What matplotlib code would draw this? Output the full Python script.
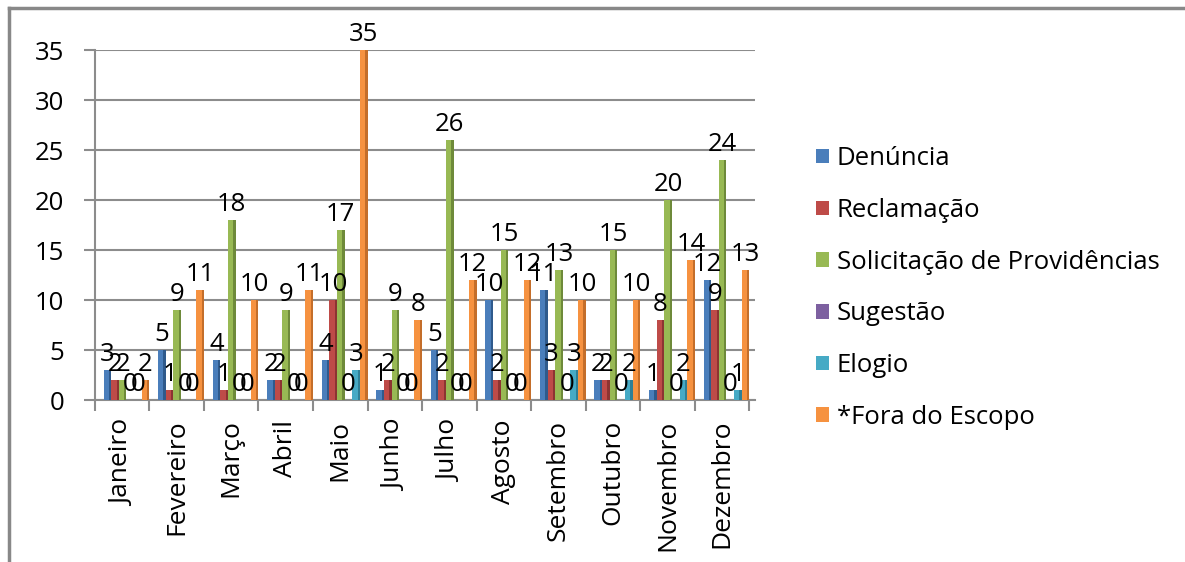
import matplotlib.pyplot as plt
import numpy as np

plt.rcParams['font.family'] = ['Open Sans', 'DejaVu Sans']

# dados
meses = ['Janeiro', 'Fevereiro', 'Março', 'Abril', 'Maio', 'Junho',
         'Julho', 'Agosto', 'Setembro', 'Outubro', 'Novembro', 'Dezembro']
series = ['Denúncia', 'Reclamação', 'Solicitação de Providências',
          'Sugestão', 'Elogio', '*Fora do Escopo']
denuncia = [3, 5, 4, 2, 4, 1, 5, 10, 11, 2, 1, 12]
reclamacao = [2, 1, 1, 2, 10, 2, 2, 2, 3, 2, 8, 9]
solicitacao = [2, 9, 18, 9, 17, 9, 26, 15, 13, 15, 20, 24]
sugestao = [0, 0, 0, 0, 0, 0, 0, 0, 0, 0, 0, 0]
elogio = [0, 0, 0, 0, 3, 0, 0, 0, 3, 2, 2, 1]
fora_escopo = [2, 11, 10, 11, 35, 8, 12, 12, 10, 10, 14, 13]
valores = [denuncia, reclamacao, solicitacao, sugestao, elogio, fora_escopo]

cores = ['#4A7EBB', '#BE4B48', '#98B954', '#7D60A0', '#46AAC5', '#F69240']
cores_lado = ['#2F5A8C', '#8C3432', '#6E8A3A', '#5A4477', '#2F7F96', '#C46E2A']

fs = 18.5

fig = plt.figure('Manifestacoes', figsize=(11.85, 5.62), dpi=100)
ax = fig.add_axes([0.080, 0.288, 0.557, 0.623])

# moldura externa (linha de cima e esquerda)
fig.add_artist(plt.Line2D([0.0076, 1.0], [0.986, 0.986], color='#888888', lw=2.5))
fig.add_artist(plt.Line2D([0.0076, 0.0076], [0.0, 0.986], color='#888888', lw=2.5))

x = np.arange(len(meses))
larg = 0.14
desloc = 0.08
for i, (nome, vals) in enumerate(zip(series, valores)):
    pos = x + desloc + (i - 2.5) * larg
    ax.bar(pos, vals, width=larg, color=cores[i], label=nome, zorder=3)
    # lado escuro (efeito 3D)
    ax.bar(pos + larg * 0.35, vals, width=larg * 0.3, color=cores_lado[i], zorder=3)
    for p, v in zip(pos, vals):
        ax.text(p, v + 0.3, str(v), ha='center', va='bottom', fontsize=fs, zorder=5)

ax.set_xlim(-0.5, len(meses) - 0.5 + 0.1)
ax.set_ylim(0, 35)
ax.set_yticks(range(0, 36, 5))
ax.yaxis.grid(True, color='#8C8C8C', lw=1.5, zorder=0)
ax.set_xticks(x)
ax.set_xticklabels(meses, rotation=90, fontsize=19)
ax.set_xticks(np.arange(-0.5, len(meses)), minor=True)
ax.tick_params(axis='x', which='major', length=0, pad=14)
ax.tick_params(axis='x', which='minor', length=8, color='#8C8C8C', width=1.5)
ax.tick_params(axis='y', labelsize=fs, length=8, color='#8C8C8C', width=1.5, pad=14)

for s in ['top', 'right']:
    ax.spines[s].set_visible(False)
ax.spines['left'].set_color('#8C8C8C')
ax.spines['left'].set_linewidth(1.5)
ax.spines['bottom'].set_color('#8C8C8C')
ax.spines['bottom'].set_linewidth(1.5)

leg = ax.legend(loc='center left', bbox_to_anchor=(1.058, 0.32), frameon=False,
                fontsize=fs, handlelength=0.5, handleheight=0.5,
                handletextpad=0.3, labelspacing=1.04)

plt.savefig('out.png', dpi=100)
